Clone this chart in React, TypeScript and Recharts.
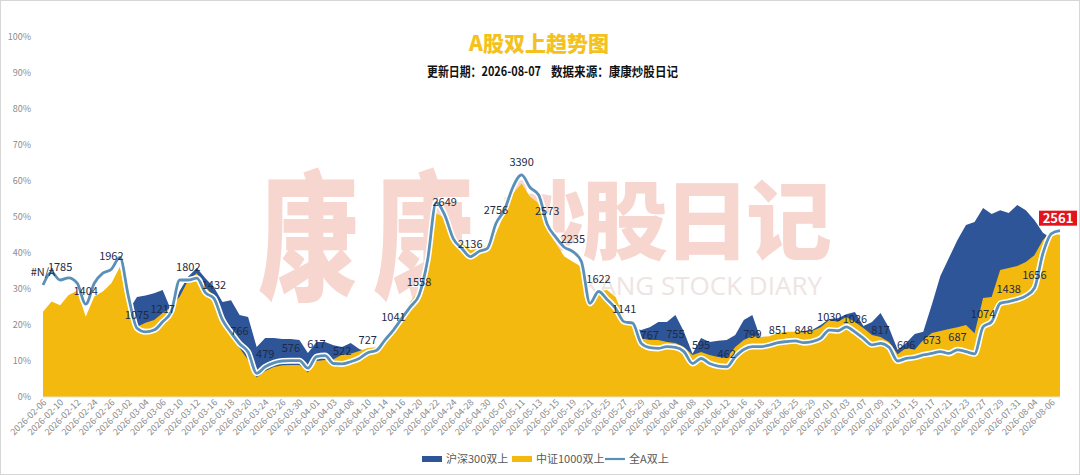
import { ComposedChart, Area, Line, XAxis, YAxis } from 'recharts';

// trading days shown on the category axis
const dates = [
  '2026-02-06', '2026-02-09', '2026-02-10', '2026-02-11', '2026-02-12', '2026-02-13', '2026-02-24', '2026-02-25',
  '2026-02-26', '2026-02-27', '2026-03-02', '2026-03-03', '2026-03-04', '2026-03-05', '2026-03-06', '2026-03-09',
  '2026-03-10', '2026-03-11', '2026-03-12', '2026-03-13', '2026-03-16', '2026-03-17', '2026-03-18', '2026-03-19',
  '2026-03-20', '2026-03-23', '2026-03-24', '2026-03-25', '2026-03-26', '2026-03-27', '2026-03-30', '2026-03-31',
  '2026-04-01', '2026-04-02', '2026-04-03', '2026-04-07', '2026-04-08', '2026-04-09', '2026-04-10', '2026-04-13',
  '2026-04-14', '2026-04-15', '2026-04-16', '2026-04-17', '2026-04-20', '2026-04-21', '2026-04-22', '2026-04-23',
  '2026-04-24', '2026-04-27', '2026-04-28', '2026-04-29', '2026-04-30', '2026-05-06', '2026-05-07', '2026-05-08',
  '2026-05-11', '2026-05-12', '2026-05-13', '2026-05-14', '2026-05-15', '2026-05-18', '2026-05-19', '2026-05-20',
  '2026-05-21', '2026-05-22', '2026-05-25', '2026-05-26', '2026-05-27', '2026-05-28', '2026-05-29', '2026-06-01',
  '2026-06-02', '2026-06-03', '2026-06-04', '2026-06-05', '2026-06-08', '2026-06-09', '2026-06-10', '2026-06-11',
  '2026-06-12', '2026-06-15', '2026-06-16', '2026-06-17', '2026-06-18', '2026-06-22', '2026-06-23', '2026-06-24',
  '2026-06-25', '2026-06-26', '2026-06-29', '2026-06-30', '2026-07-01', '2026-07-02', '2026-07-03', '2026-07-06',
  '2026-07-07', '2026-07-08', '2026-07-09', '2026-07-10', '2026-07-13', '2026-07-14', '2026-07-15', '2026-07-16',
  '2026-07-17', '2026-07-20', '2026-07-21', '2026-07-22', '2026-07-23', '2026-07-24', '2026-07-27', '2026-07-28',
  '2026-07-29', '2026-07-30', '2026-07-31', '2026-08-03', '2026-08-04', '2026-08-05', '2026-08-06', '2026-08-07',
];

// 沪深300双上 (%)
const hs300 = [
  21.5, 24, 23, 26, 27, 20.5, 25.5, 27, 29.5, 34,
  24, 27.8, 28.2, 28.8, 29.7, 24, 29.5, 33.5, 35.8, 33,
  30.5, 26.4, 26.9, 22.8, 22.2, 13.9, 16.4, 16.4, 16.1, 16.1,
  15.8, 12.2, 15.3, 15.3, 14.4, 13.9, 15, 13.3, 12.5, 13,
  15.5, 19.5, 22, 25, 27.5, 36, 48, 47, 42, 40.5,
  38.5, 39, 40, 43.5, 49, 54.5, 57, 53.5, 51.5, 44,
  40.5, 37, 35.5, 34, 23.5, 27, 27.5, 25.5, 20, 19,
  18.6, 19.4, 20.8, 20.8, 22.8, 18.1, 12, 16.4, 15.3, 15.6,
  15.8, 17.2, 21.4, 22.8, 16, 16, 17, 17.5, 18, 18.3,
  18.6, 20, 21.7, 21.9, 23, 23.6, 19.7, 20.8, 23.3, 19.2,
  13.1, 15, 17.5, 18.1, 25.6, 33.6, 38.6, 43.6, 47.8, 48.6,
  52.5, 50.8, 51.9, 51.1, 53.3, 51.9, 49.2, 45.6, 44, 43,
];

// 中证1000双上 (%)
const zz1000 = [
  23.7, 26.5, 25.5, 28.3, 29.5, 22.3, 27.9, 29.3, 31.6, 36.2,
  25, 19.5, 20.6, 21.4, 23.3, 25, 27.9, 32.5, 34.4, 30.6,
  27.9, 20, 16.8, 13.6, 10.3, 5.4, 7.2, 8.3, 8.8, 8.9,
  8.9, 6.8, 10, 10.3, 10.5, 11.8, 12, 12.8, 13.6, 13.8,
  15, 18, 21.5, 26.5, 29.5, 37.5, 51, 50, 44.2, 42.7,
  40.8, 41.2, 42.2, 45.5, 51, 56.6, 59.3, 55.6, 53.8, 46.4,
  42.7, 39, 37.6, 36.2, 25.6, 29.4, 29.7, 27.8, 21.9, 20.5,
  16.3, 15.8, 15.8, 15.3, 15, 13.9, 11.7, 12.5, 11.7, 11.1,
  10.8, 13.9, 15.8, 16.9, 16.7, 16.9, 17.8, 18.1, 18.1, 17.9,
  18.3, 19.4, 21.4, 20.9, 22.2, 20.8, 19.2, 17.2, 16.7, 15.3,
  11.9, 13.6, 13.1, 15.8, 17.8, 18.3, 18.9, 19.4, 20, 17.7,
  27.5, 27.8, 35.3, 35.8, 36.4, 37.5, 39.4, 43.6, 45.8, 45,
];

// 全A双上 (%)
const allA = [
  31.1, 34.6, 32.5, 33.1, 31.6, 25.8, 31.6, 34.4, 35.5, 38.8,
  27.9, 19.1, 18.1, 18.6, 20.9, 23.7, 32.5, 32.5, 33, 29,
  27.4, 21.4, 17.9, 14.8, 12.5, 6.6, 8.4, 9.5, 10, 10.1,
  10.1, 8, 11.2, 11.5, 9.3, 9.2, 9.8, 10.7, 12.3, 12.9,
  15.8, 18.6, 21.9, 25.1, 28.3, 38, 54, 50.6, 44, 41.3,
  39, 40.4, 41.3, 48.2, 52, 58.4, 61.7, 58.2, 56.1, 48,
  44.4, 41.6, 40.4, 37.6, 26, 29.3, 27.1, 24.6, 20.9, 20.5,
  14.9, 13.7, 13.5, 14, 13.8, 12.6, 9.3, 10.7, 9.3, 8.6,
  8.4, 11.2, 13.2, 14, 14, 14.4, 15.1, 15.4, 15.6, 15.1,
  15.4, 16.3, 18.6, 18.4, 19.5, 18.1, 16.3, 14.5, 14.9, 13.8,
  10, 10.7, 11, 11.7, 12.1, 12.6, 12.1, 13.1, 12.6, 12,
  19.5, 20.9, 26, 26.5, 27.1, 28.1, 30.2, 39.9, 45.4, 46.2,
];

// stock counts printed on the 全A line: first at day 0, then every third day from day 2
const countLabels = [
  '#N/A', '1785', '1404', '1962', '1075', '1217', '1802', '1432', '766', '479',
  '576', '617', '522', '727', '1041', '1558', '2649', '2136', '2756', '3390',
  '2573', '2235', '1622', '1141', '767', '755', '595', '462', '799', '851',
  '848', '1030', '1026', '817', '606', '673', '687', '1074', '1438', '1656',
  '2561',
];

const yTicks = [0, 10, 20, 30, 40, 50, 60, 70, 80, 90, 100];

const data = dates.map((date, i) => ({ date, hs300: hs300[i], zz1000: zz1000[i], allA: allA[i] }));

const labelAt: Record<number, string> = {};
countLabels.forEach((t, k) => {
  labelAt[k === 0 ? 0 : 3 * k - 1] = t;
});

const FONT = '"Noto Sans CJK SC", "Noto Sans", sans-serif';
const BLUE = '#2E5597';
const GOLD = '#F3B90E';
const LINE = '#5A90B8';
const MARK = '#F7D6CF';

function DateTick({ x, y, payload }: any) {
  const tx = x + 4;
  const ty = y;
  return (
    <text
      x={tx}
      y={ty}
      transform={`rotate(-45 ${tx} ${ty})`}
      textAnchor="end"
      fontSize={9}
      fill="#8a8a8a"
      fontFamily={FONT}
    >
      {payload.value}
    </text>
  );
}

function CountLabel(props: any) {
  const { cx, cy, index } = props;
  const text = labelAt[index];
  if (text === undefined || cx == null || cy == null) return <g key={`c${index}`} />;
  if (index === dates.length - 1) {
    return (
      <g key={`c${index}`}>
        <rect x={cx - 21} y={cy - 20} width={38} height={15} fill="#E3141C" />
        <text x={cx - 2} y={cy - 8} textAnchor="middle" fill="#fff" fontSize={13} fontWeight="bold" fontFamily={FONT}>
          {text}
        </text>
      </g>
    );
  }
  return (
    <text key={`c${index}`} x={cx} y={cy - 9} textAnchor="middle" fontSize={11} fill="#1d2b45" fontFamily={FONT}>
      {text}
    </text>
  );
}

export default function App() {
  return (
    <div
      style={{
        position: 'absolute',
        left: 0,
        top: 0,
        width: 1078,
        height: 473,
        border: '1px solid #d6d6d6',
        background: '#fff',
        fontFamily: FONT,
        overflow: 'hidden',
      }}
    >
      {/* watermark */}
      <svg width={1080} height={475} style={{ position: 'absolute', left: -1, top: -1 }}>
        <text
          transform="translate(258,289) scale(1,1.4)"
          fontSize={100}
          letterSpacing={15}
          fontWeight={900}
          fill={MARK}
          fontFamily={FONT}
        >
          康康
        </text>
        <text x={500} y={253} fontSize={86} letterSpacing={-4} fontWeight={900} fill={MARK} fontFamily={FONT}>
          炒股日记
        </text>
        <text x={822} y={295} textAnchor="end" fontSize={26} fill="#EEE4E2" fontFamily='"Open Sans", sans-serif'>
          KANGKANG STOCK DIARY
        </text>
      </svg>

      <div style={{ position: 'absolute', left: -1, top: -1 }}>
        <ComposedChart width={1080} height={475} data={data} margin={{ top: 37, right: 20, left: 0, bottom: 0 }}>
          <XAxis
            dataKey="date"
            scale="point"
            padding={{ left: 0, right: 0 }}
            interval={1}
            height={78}
            tickSize={0}
            tickMargin={6}
            tickLine={false}
            axisLine={{ stroke: '#e3e3e3' }}
            tick={<DateTick />}
          />
          <YAxis
            width={43}
            domain={[0, 100]}
            ticks={yTicks}
            tickFormatter={(v: number) => `${v}%`}
            axisLine={false}
            tickLine={false}
            tickSize={0}
            tickMargin={12}
            tick={{ fontSize: 9, fill: '#8c8c8c', fontFamily: FONT }}
          />
          <Area
            type="linear"
            dataKey="hs300"
            stroke="none"
            fill={BLUE}
            fillOpacity={1}
            isAnimationActive={false}
          />
          <Area
            type="linear"
            dataKey="zz1000"
            stroke="none"
            fill={GOLD}
            fillOpacity={1}
            isAnimationActive={false}
          />
          <Line
            type="monotone"
            dataKey="allA"
            stroke="#ffffff"
            strokeWidth={6}
            dot={false}
            activeDot={false}
            legendType="none"
            isAnimationActive={false}
          />
          <Line
            type="monotone"
            dataKey="allA"
            stroke={LINE}
            strokeWidth={2.8}
            dot={CountLabel}
            activeDot={false}
            isAnimationActive={false}
          />
        </ComposedChart>
      </div>

      {/* title, subtitle and legend */}
      <svg width={1080} height={475} style={{ position: 'absolute', left: -1, top: -1, pointerEvents: 'none' }}>
        <text x={539} y={51} textAnchor="middle" fontSize={21} fontWeight={900} fill="#F4C21F" fontFamily={FONT}>
          A股双上趋势图
        </text>
        <g fontSize={13} fontWeight="bold" fill="#111" fontFamily={FONT}>
          <text x={427} y={76} textLength={114} lengthAdjust="spacingAndGlyphs">
            更新日期：2026-08-07
          </text>
          <text x={551} y={76} textLength={127} lengthAdjust="spacingAndGlyphs">
            数据来源：康康炒股日记
          </text>
        </g>
        <g fontSize={11} fill="#595959" fontFamily={FONT}>
          <rect x={422} y={456} width={20} height={6} fill={BLUE} />
          <text x={446} y={463}>沪深300双上</text>
          <rect x={512} y={456} width={20} height={6} fill={GOLD} />
          <text x={536} y={463}>中证1000双上</text>
          <line x1={605} y1={459} x2={625} y2={459} stroke={LINE} strokeWidth={2.2} />
          <text x={629} y={463}>全A双上</text>
        </g>
      </svg>
    </div>
  );
}
